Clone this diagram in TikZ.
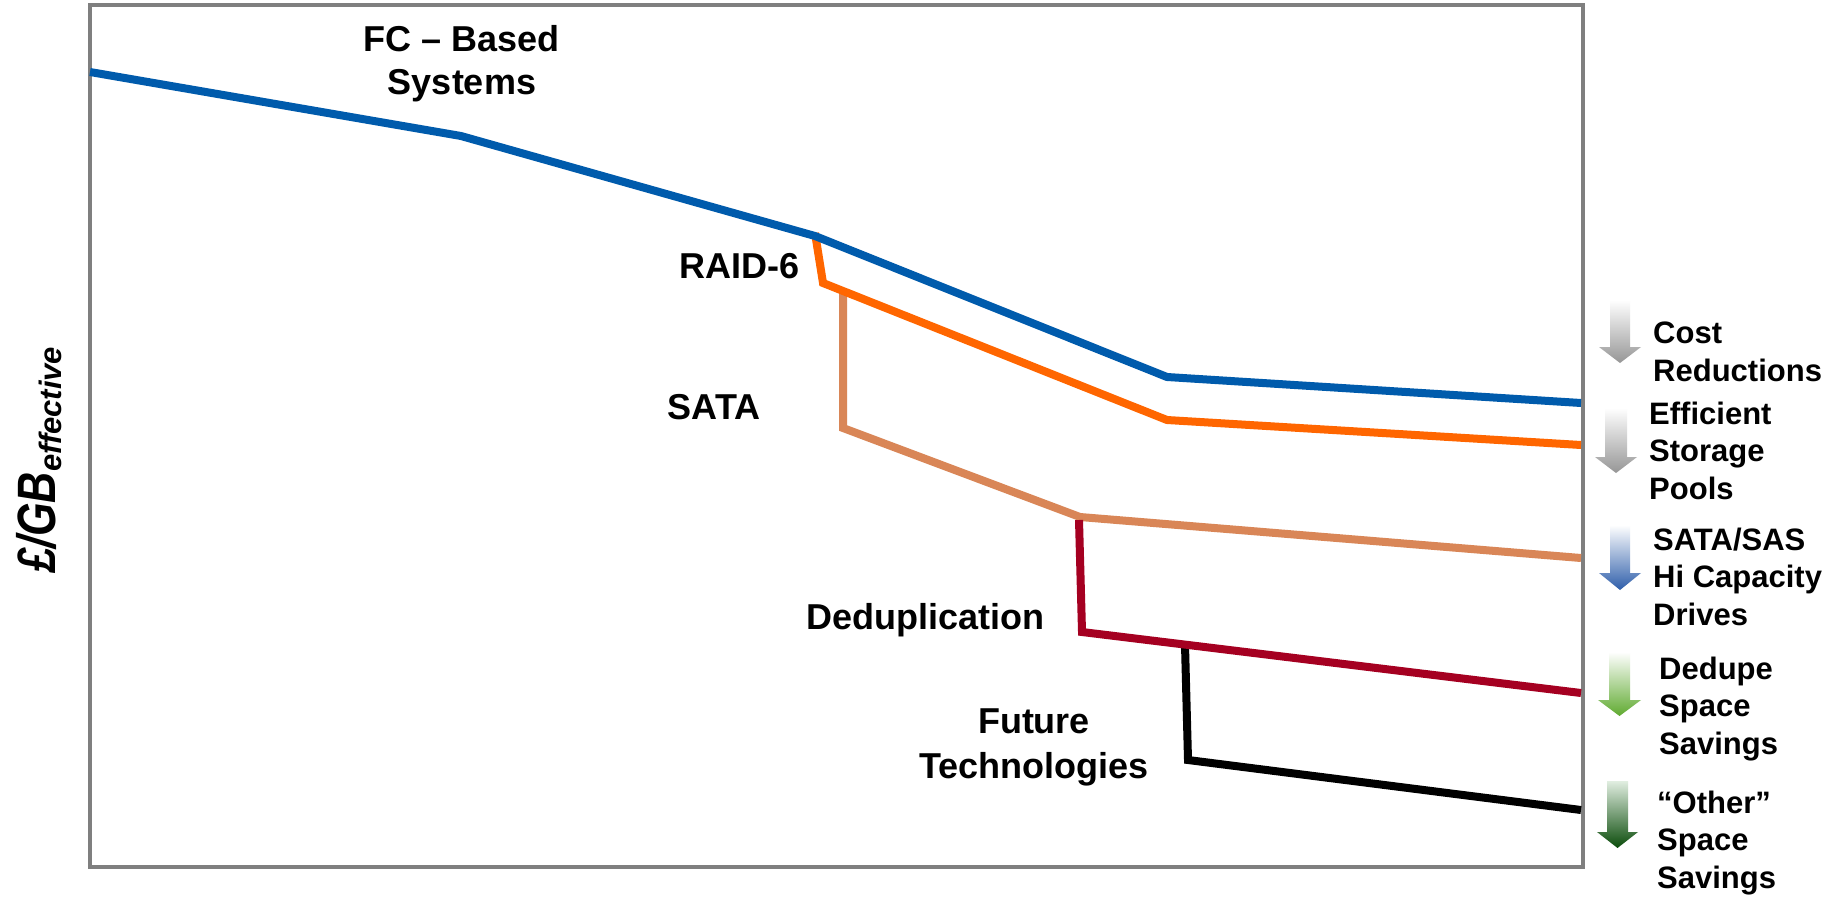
\documentclass[tikz,border=0pt]{standalone}
\usepackage{fontspec}
\setmainfont{Liberation Sans}
\usepackage{graphicx}
\definecolor{fcblue}{RGB}{0,91,172}
\definecolor{raidorange}{RGB}{255,102,0}
\definecolor{satatan}{RGB}{217,134,87}
\definecolor{deduped}{RGB}{165,0,33}
\definecolor{framegray}{RGB}{127,127,127}
\definecolor{arrgray}{RGB}{150,150,150}
\definecolor{arrblue}{RGB}{46,94,170}
\definecolor{arrgreen}{RGB}{95,170,48}
\definecolor{arrdkgreen}{RGB}{10,75,10}
\definecolor{arrpalegreen}{RGB}{225,238,225}
\newcommand{\MyDownArrow}[8]{%
  % #1 top colour, #2 bottom colour, #3 shaft left, #4 shaft right, #5 top, #6 shoulder, #7 head overhang, #8 tip
  \shade[top color=#1, bottom color=#2]
    (#3,#5) -- (#4,#5) -- (#4,#6) -- ({#4+#7},#6) -- ({(#3+#4)/2},#8)
    -- ({#3-#7},#6) -- (#3,#6) -- cycle;}
\begin{document}
\begin{tikzpicture}[x=1pt,y=-1pt,
  trend/.style={line width=8pt, line join=miter},
  mainlbl/.style={font=\bfseries\fontsize{36}{43}\selectfont, inner sep=0pt, align=center},
  sidelbl/.style={font=\bfseries\fontsize{31}{37.5}\selectfont, inner sep=0pt, align=left, anchor=base west}]
\useasboundingbox (0,0) rectangle (1843,899);
\fill[white] (0,0) rectangle (1843,899);

% frame
\draw[framegray, line width=4pt] (90,5) rectangle (1583,867);

% coordinates of the trend lines
\coordinate (b0) at (90,72);
\coordinate (b1) at (461,136);
\coordinate (b2) at (815,236);
\coordinate (b3) at (1167,377);
\coordinate (b4) at (1581,403);

\coordinate (o0) at (815,233);
\coordinate (o1) at (823,283);
\coordinate (o2) at (1167,420);
\coordinate (o3) at (1581,445);

\coordinate (t0) at (843,290);
\coordinate (t1) at (843,428);
\coordinate (t2) at (1080,517);
\coordinate (t3) at (1581,558);

\coordinate (r0) at (1079,520);
\coordinate (r1) at (1082,632);
\coordinate (r3) at (1581,693);

\coordinate (k0) at (1185,645);
\coordinate (k1) at (1188,760);
\coordinate (k2) at (1581,810);

\draw[trend, satatan] (t0) -- (t1) -- (t2) -- (t3);
\draw[trend, raidorange] (o0) -- (o1) -- (o2) -- (o3);
\draw[trend, fcblue] (b0) -- (b1) -- (b2) -- (b3) -- (b4);
\draw[trend, black] (k0) -- (k1) -- (k2);
\draw[trend, deduped] (r0) -- (r1) -- (r3);

% labels in the plot (base = baseline of the last line)
\node[mainlbl, anchor=base] (fc) at (462,94) {FC -- Based\\Systems};
\node[mainlbl, anchor=base east] (raid) at (800,278) {RAID-6};
\node[mainlbl, anchor=base] (sata) at (714,419) {SATA};
\node[mainlbl, anchor=base] (dedup) at (925,629) {Deduplication};
\node[mainlbl, anchor=base, font=\bfseries\fontsize{36}{45}\selectfont] (future) at (1034,778) {Future\\Technologies};

% y axis label
\node[rotate=90, anchor=base west, inner sep=0pt] (ylab) at (55,573)
  {\bfseries\itshape\scalebox{0.8}[1]{\fontsize{54}{54}\selectfont £/GB}\raisebox{-6pt}{\fontsize{31}{31}\selectfont effective}};

% side arrows
\MyDownArrow{white}{arrgray}{1610}{1630}{300}{347}{11}{363}
\MyDownArrow{white}{arrgray}{1605}{1627}{408}{457}{10}{473}
\MyDownArrow{white}{arrblue}{1610}{1630}{525}{573}{11}{590}
\MyDownArrow{white}{arrgreen}{1609}{1630}{652}{700}{11}{716}
\MyDownArrow{arrpalegreen}{arrdkgreen}{1607}{1628}{781}{832}{10}{848}

% side labels (base = baseline of the last line)
\node[sidelbl] (cost) at (1653,381) {Cost\\Reductions};
\node[sidelbl] (pools) at (1649,499) {Efficient\\Storage\\Pools};
\node[sidelbl] (drives) at (1653,625) {SATA/SAS\\Hi Capacity\\Drives};
\node[sidelbl] (dedupe) at (1659,754) {Dedupe\\Space\\Savings};
\node[sidelbl] (other) at (1657,888) {“Other”\\Space\\Savings};
\end{tikzpicture}
\end{document}
